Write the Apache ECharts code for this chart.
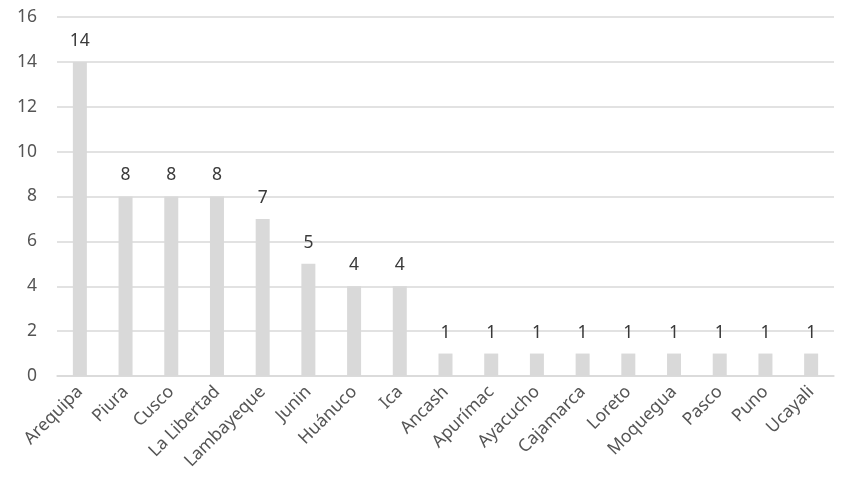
<!DOCTYPE html>
<html>
<head>
<meta charset="utf-8">
<script src="https://cdn.jsdelivr.net/npm/echarts@6/dist/echarts.min.js"></script>
<style>
  html, body { margin: 0; padding: 0; background: #fff; }
  #chart { width: 853px; height: 499px; }
</style>
</head>
<body>
<div id="chart"></div>
<script>
const regions = ["Arequipa", "Piura", "Cusco", "La Libertad", "Lambayeque", "Junin", "Huánuco", "Ica",
  "Ancash", "Apurímac", "Ayacucho", "Cajamarca", "Loreto", "Moquegua", "Pasco", "Puno", "Ucayali"];
const counts = [14, 8, 8, 8, 7, 5, 4, 4, 1, 1, 1, 1, 1, 1, 1, 1, 1];

const chart = echarts.init(document.getElementById("chart"));

const option = {
  animation: false,
  grid: {
    left: 57,
    right: 19,
    top: 17,
    bottom: 123,
    containLabel: false,
  },
  xAxis: {
    type: "category",
    data: regions,
    axisLine: { lineStyle: { color: "#d9d9d9", width: 1.5 } },
    axisTick: { show: false },
    axisLabel: {
      rotate: 45,
      interval: 0,
      margin: 13,
      fontSize: 17.5,
      color: "#555555",
      fontFamily: "Noto Sans, sans-serif",
    },
  },
  yAxis: {
    type: "value",
    min: 0,
    max: 16,
    interval: 2,
    axisLine: { show: false },
    axisTick: { show: false },
    splitLine: { lineStyle: { color: "#d9d9d9", width: 1.5 } },
    axisLabel: {
      fontSize: 17.5,
      color: "#555555",
      margin: 20,
      fontFamily: "Noto Sans, sans-serif",
    },
  },
  series: [
    {
      type: "bar",
      data: counts,
      barWidth: 14,
      itemStyle: { color: "#d9d9d9" },
      label: {
        show: true,
        position: "top",
        distance: 12,
        fontSize: 17.5,
        color: "#3a3a3a",
        fontFamily: "Noto Sans, sans-serif",
      },
    },
  ],
};

chart.setOption(option);
</script>
</body>
</html>
